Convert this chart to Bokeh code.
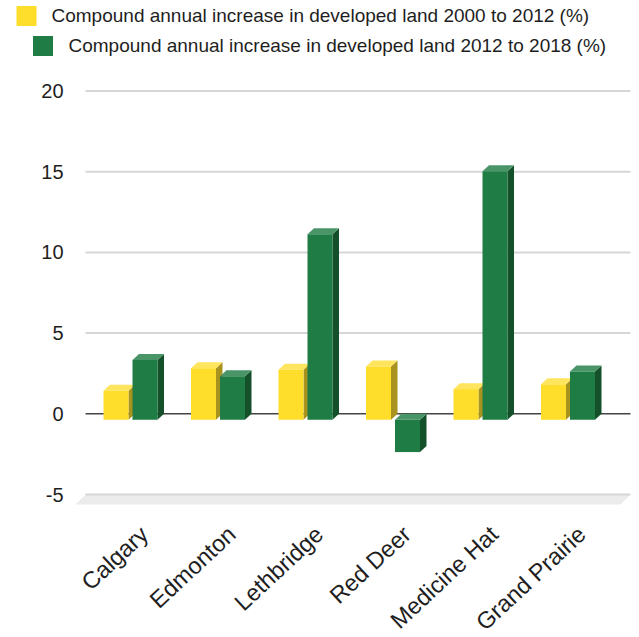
import numpy as np
from bokeh.plotting import figure
from bokeh.models import Range1d
from bokeh.core.properties import value
from bokeh.embed import file_html
from bokeh.resources import INLINE

# ---------------- data ----------------
cities = ["Calgary", "Edmonton", "Lethbridge", "Red Deer", "Medicine Hat", "Grand Prairie"]
inc_2000_2012 = [1.8, 3.2, 3.1, 3.3, 1.9, 2.2]
inc_2012_2018 = [3.7, 2.7, 11.5, -2.0, 15.4, 3.0]
series_names = [
    "Compound annual increase in developed land 2000 to 2012 (%)",
    "Compound annual increase in developed land 2012 to 2018 (%)",
]
y_ticks = [-5, 0, 5, 10, 15, 20]
y_tick_labels = ["-5", "0", "5", "10", "15", "20"]

# ---------------- layout constants (pixels) ----------------
W, H = 634, 634
CAT_PX = 87.5      # pixel distance between categories
X0_PX = 130.0      # pixel x of first category centre
Y0_PX = 413.3      # pixel y of value 0 on the back wall
UNIT_PX = 16.14    # pixels per unit of value

def px_x(px):
    return (px - X0_PX) / CAT_PX

def px_y(py):
    return (Y0_PX - py) / UNIT_PX

DX = 6.5 / CAT_PX      # 3D depth, horizontal
DY = 6.0 / UNIT_PX     # 3D depth, vertical
BW = 25.0 / CAT_PX     # bar width
OFF = 14.5 / CAT_PX    # series offset from category centre

WALL_X0 = px_x(85)
WALL_X1 = px_x(630)
FLOOR_DX = 10.0 / CAT_PX
FLOOR_DY = 10.0 / UNIT_PX

FONT = value("Liberation Sans")
TXT = "#1e1e1e"

styles = [
    dict(front="#FFDD2B", top="#FFE45E", side="#A9931F"),
    dict(front="#1F7C44", top="#4A9568", side="#14512B"),
]

p = figure(width=W, height=H, output_backend="svg", toolbar_location=None,
           x_range=Range1d(px_x(0), px_x(W)), y_range=Range1d(px_y(H), px_y(0)),
           min_border=0, outline_line_color=None)
p.axis.visible = False
p.grid.visible = False
p.background_fill_color = "white"
p.border_fill_color = "white"

# floor
p.patch([WALL_X0, WALL_X1, WALL_X1 - FLOOR_DX, WALL_X0 - FLOOR_DX],
        [y_ticks[0], y_ticks[0], y_ticks[0] - FLOOR_DY, y_ticks[0] - FLOOR_DY],
        fill_color="#ececec", line_color=None)

# grid lines on back wall
for t in y_ticks:
    if t == 0:
        continue
    p.segment(x0=[WALL_X0], y0=[t], x1=[WALL_X1], y1=[t],
              line_color="#d6d6d6", line_width=2)
p.segment(x0=[WALL_X0], y0=[0], x1=[WALL_X1], y1=[0],
          line_color="#444444", line_width=1.5)

# y tick labels
p.text(x=[px_x(63)] * len(y_ticks), y=y_ticks, text=y_tick_labels,
       text_font=FONT, text_font_size="20px", text_color=TXT,
       text_align="right", text_baseline="middle")

# bars (3D look)
xs = np.arange(len(cities))
for si, (vals, sign) in enumerate([(inc_2000_2012, -1), (inc_2012_2018, 1)]):
    st = styles[si]
    x0 = xs + sign * OFF - BW / 2
    x1 = x0 + BW
    v = np.array(vals, dtype=float)
    lo = np.minimum(v, 0)
    hi = np.maximum(v, 0)
    side_xs = [[a1, a1 + DX, a1 + DX, a1] for a1 in x1]
    side_ys = [[h - DY, h, l, l - DY] for h, l in zip(hi, lo)]
    p.patches(side_xs, side_ys, fill_color=st["side"], line_color=None)
    top_xs = [[a0, a1, a1 + DX, a0 + DX] for a0, a1 in zip(x0, x1)]
    top_ys = [[h - DY, h - DY, h, h] for h in hi]
    p.patches(top_xs, top_ys, fill_color=st["top"], line_color=None)
    p.quad(left=x0, right=x1, bottom=lo - DY, top=hi - DY,
           fill_color=st["front"], line_color=None)

# x category labels (rotated)
p.text(x=xs + 14.0 / CAT_PX, y=[px_y(530)] * len(cities), text=cities,
       angle=np.deg2rad(43), text_font=FONT, text_font_size="23.5px", text_color=TXT,
       text_align="right", text_baseline="middle")

# legend
leg_sq_x = [px_x(26), px_x(42.5)]
leg_sq_y = [px_y(15.5), px_y(45.5)]
leg_tx_x = [px_x(51), px_x(68)]
leg_tx_y = [px_y(15), px_y(45)]
p.rect(x=leg_sq_x, y=leg_sq_y, width=20, height=20, width_units="screen",
       height_units="screen", fill_color=[styles[0]["front"], styles[1]["front"]],
       line_color=None)
p.text(x=leg_tx_x, y=leg_tx_y, text=series_names, text_font=FONT,
       text_font_size="19px", text_color=TXT, text_align="left",
       text_baseline="middle")

open("out.html", "w").write(file_html(p, INLINE))
